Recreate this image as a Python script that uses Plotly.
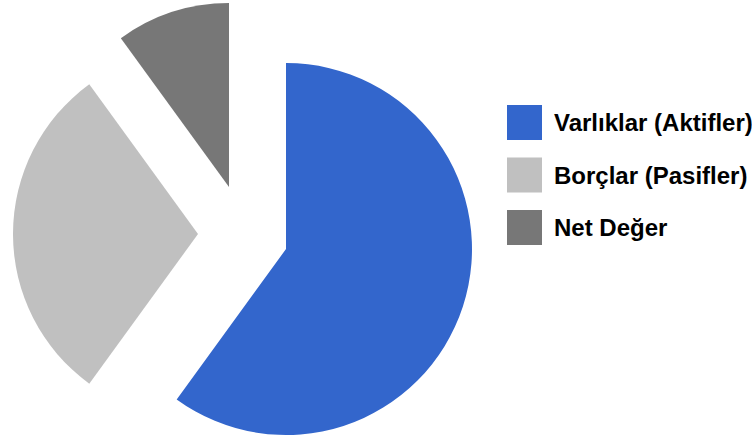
import plotly.graph_objects as go

# ---- data ----
labels = ["Varlıklar (Aktifler)", "Borçlar (Pasifler)", "Net Değer"]
values = [60, 30, 10]
colors = ["#3366CC", "#C0C0C0", "#777777"]

# ---- layout constants (pixels) ----
W, H = 752, 445
# exploded slice centres and radii (each slice drawn by its own pie trace)
slice_centers = [(286, 249), (198, 234), (229, 187)]
slice_radii = [186, 185, 184]

legend_x_box = 507
legend_box = 35
legend_y_first = 105
legend_step = 52.5
legend_text_x = 552

fig = go.Figure()

for i, ((cx, cy), r) in enumerate(zip(slice_centers, slice_radii)):
    cols = [c if j == i else "rgba(0,0,0,0)" for j, c in enumerate(colors)]
    fig.add_trace(go.Pie(
        labels=labels,
        values=values,
        sort=False,
        direction="clockwise",
        rotation=0,
        marker=dict(colors=cols, line=dict(width=0)),
        textinfo="none",
        hoverinfo="label+percent",
        showlegend=False,
        domain=dict(x=[(cx - r) / W, (cx + r) / W],
                    y=[(H - cy - r) / H, (H - cy + r) / H]),
    ))

shapes = []
annotations = []
for i, (lab, col) in enumerate(zip(labels, colors)):
    top = legend_y_first + i * legend_step
    shapes.append(dict(
        type="rect", xref="paper", yref="paper",
        x0=legend_x_box / W, x1=(legend_x_box + legend_box) / W,
        y0=1 - (top + legend_box) / H, y1=1 - top / H,
        fillcolor=col, line=dict(width=0),
    ))
    annotations.append(dict(
        text=lab, xref="paper", yref="paper",
        x=legend_text_x / W, y=1 - (top + legend_box / 2) / H,
        xanchor="left", yanchor="middle", showarrow=False,
        font=dict(family="Arial, Liberation Sans, sans-serif", size=24,
                  color="#000000", weight="bold"),
    ))

fig.update_layout(
    width=W, height=H,
    margin=dict(l=0, r=0, t=0, b=0),
    paper_bgcolor="white", plot_bgcolor="white",
    shapes=shapes, annotations=annotations,
    showlegend=False,
)

fig.write_html("out.html")
